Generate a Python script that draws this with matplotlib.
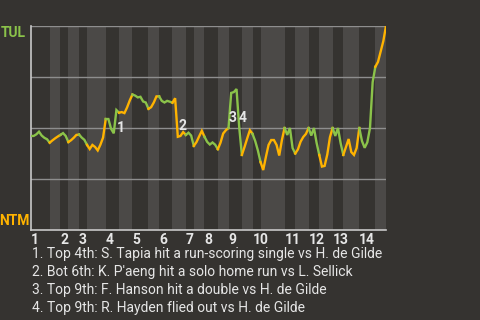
import numpy as np
import matplotlib
matplotlib.use("Agg")
import matplotlib.pyplot as plt

# plate appearances per half-inning (top 1, bot 1, top 2, ...)
pa_per_half = [7, 4, 3, 4, 3, 7, 5, 5, 6, 4, 5, 5, 3, 4,
               5, 4, 5, 4, 3, 9, 4, 5, 4, 5, 4, 6, 6, 4]

# TUL win probability (%) after each plate appearance, first value is the start
tul_wp = [46.1, 46.1, 46.9, 48.2, 46.3, 45.2, 44.5, 42.8,
          43.9, 44.9, 45.8, 46.6,
          47.5, 46.1, 43.1,
          44.0, 45.2, 46.6, 46.8,
          45.3, 44.2, 41.7,
          39.7, 41.7, 40.7, 39.0, 41.8, 45.3, 54.4,
          54.4, 49.6, 47.4, 58.8, 57.5,
          57.8, 57.3, 60.1, 63.5, 66.4,
          65.9, 65.0, 65.3, 63.0, 62.5, 59.4,
          60.2, 62.5, 65.5, 65.5,
          63.3, 62.5, 63.3, 62.9, 62.4,
          64.6, 45.7, 46.1, 48.0, 46.6,
          47.7, 46.3, 41.2,
          43.1, 45.9, 48.6, 45.7,
          43.2, 41.9, 42.9, 41.8, 39.6,
          42.8, 47.3, 48.9, 50.0,
          67.2, 67.6, 69.1, 50.5, 36.8,
          40.7, 44.9, 48.9, 47.1,
          43.6, 39.0, 33.3,
          29.4, 35.8, 41.7, 44.1, 44.1, 41.7, 36.5, 44.1, 50.0,
          46.6, 50.0, 40.2, 37.5,
          39.5, 43.3, 45.6, 47.1, 50.0,
          46.3, 50.0, 42.7, 36.8,
          31.1, 31.4, 37.0, 45.5, 50.0,
          46.1, 50.0, 42.6, 36.8,
          40.7, 44.6, 38.2, 36.8, 40.2, 50.0,
          43.6, 40.3, 43.0, 50.0, 72.5, 80.0,
          82.4, 87.5, 92.6, 100.0]

innings = [str(i) for i in range(1, 15)]

# numbered events: (plate appearance index, label height in %)
event_marks = [(32.2, 49.8), (55.4, 51.2), (74.2, 54.7), (77.6, 54.7)]
event_notes = [
    "1. Top 4th: S. Tapia hit a run-scoring single vs H. de Gilde",
    "2. Bot 6th: K. P'aeng hit a solo home run vs L. Sellick",
    "3. Top 9th: F. Hanson hit a double vs H. de Gilde",
    "4. Top 9th: R. Hayden flied out vs H. de Gilde",
]

bg = "#353330"
band = "#4b4947"
green = "#8bc34a"
orange = "#ffb300"
txt = "#e6e6e6"

plt.rcParams['font.family'] = ['Roboto', 'DejaVu Sans']

fig = plt.figure(figsize=(4.8, 3.2), dpi=100, facecolor=bg)
ax = fig.add_axes([31 / 480, 90 / 320, 355 / 480, 204 / 320])
ax.set_facecolor(bg)

bounds = np.concatenate([[0], np.cumsum(pa_per_half)])
wp = np.array(tul_wp) / 100.0

for i in range(len(pa_per_half)):
    a, b = bounds[i], bounds[i + 1]
    if i % 2 == 1:
        ax.axvspan(a, b, color=band, lw=0, zorder=0)

for y in [0.25, 0.5, 0.75, 1.0]:
    ax.axhline(y, color="#8e8e8e", lw=1, zorder=1)

for i in range(len(pa_per_half)):
    a, b = bounds[i], bounds[i + 1]
    xs = np.arange(a, b + 1)
    ax.plot(xs, wp[a:b + 1], color=green if i % 2 == 0 else orange,
            lw=1.7, solid_joinstyle='miter', zorder=3)

for n, (x, y) in enumerate(event_marks):
    ax.text(x, y / 100, str(n + 1), color=txt, fontsize=10,
            fontweight='bold', ha='left', va='center', zorder=4)

ax.set_xlim(0, bounds[-1])
ax.set_ylim(0, 1)
ax.set_yticks([])
ax.set_xticks(bounds[::2][:14])
ax.set_xticklabels(innings, fontsize=10, fontweight='bold', color=txt, ha='left')
ax.tick_params(axis='x', length=0, pad=2)
for s in ['top', 'right']:
    ax.spines[s].set_visible(False)
for s in ['left', 'bottom']:
    ax.spines[s].set_color("#c8c8c8")
    ax.spines[s].set_linewidth(1.2)

fig.text(26 / 480, 1 - 33 / 320, "TUL", color=green, fontsize=10,
         fontweight='bold', ha='right', va='center')
fig.text(29 / 480, 1 - 221 / 320, "NTM", color=orange, fontsize=10,
         fontweight='bold', ha='right', va='center')

for j, note in enumerate(event_notes):
    fig.text(32 / 480, 1 - (254 + 18 * j) / 320, note, color=txt,
             fontsize=10, ha='left', va='center')

fig.savefig("out.png", dpi=100, facecolor=bg)
